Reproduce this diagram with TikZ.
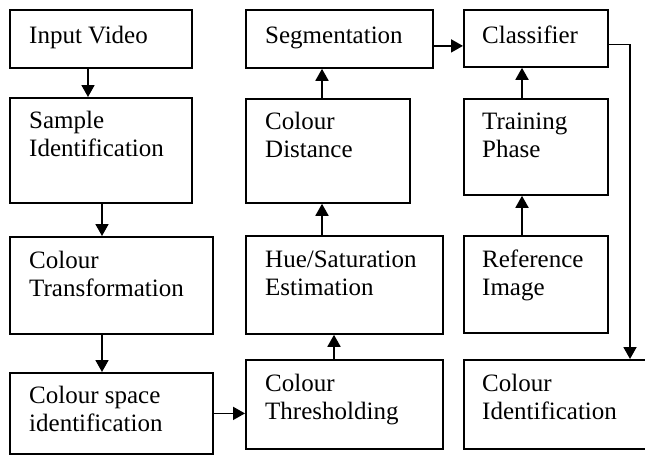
\documentclass[tikz,border=0pt]{standalone}
\usepackage{fontspec}
\setmainfont{Liberation Serif}
\usetikzlibrary{arrows.meta}

\tikzset{
  box/.style={draw, line width=1.8pt, rectangle, inner sep=0pt, anchor=north west},
  txt/.style={anchor=base west, inner sep=0pt, align=left, font=\fontsize{25}{28}\selectfont},
  arr/.style={line width=1.8pt, -{Triangle[length=12pt,width=13pt]}}
}

\begin{document}
\begin{tikzpicture}[x=1pt,y=-1pt]
	
	\useasboundingbox (0,0) rectangle (645,456);
	\clip (0,0) rectangle (645,456);
	
	% first column
	\node[box, minimum width=182, minimum height=58] (video) at (9,9) {};
	\node[box, minimum width=182, minimum height=105] (sample) at (9,97) {};
	\node[box, minimum width=203, minimum height=97] (transf) at (9,236) {};
	\node[box, minimum width=203, minimum height=81] (space) at (9,372) {};
	
	\node[txt] (videotxt) at ([shift={(20,34)}]video.north west) {Input Video};
	\node[txt] (sampletxt) at ([shift={(20,59)}]sample.north west) {Sample\\Identification};
	\node[txt] (transftxt) at ([shift={(20,60)}]transf.north west) {Colour\\Transformation};
	\node[txt] (spacetxt) at ([shift={(20,59)}]space.north west) {Colour space\\identification};
	
	% second column
	\node[box, minimum width=187, minimum height=58] (segm) at (245,9) {};
	\node[box, minimum width=164, minimum height=104] (dist) at (245,98) {};
	\node[box, minimum width=197, minimum height=98] (hue) at (245,235) {};
	\node[box, minimum width=197, minimum height=89] (thresh) at (245,359) {};
	
	\node[txt] (segmtxt) at ([shift={(20,34)}]segm.north west) {Segmentation};
	\node[txt] (disttxt) at ([shift={(20,59)}]dist.north west) {Colour\\Distance};
	\node[txt] (huetxt) at ([shift={(20,60)}]hue.north west) {Hue/Saturation\\Estimation};
	\node[txt] (threshtxt) at ([shift={(20,60)}]thresh.north west) {Colour\\Thresholding};
	
	% third column
	\node[box, minimum width=144, minimum height=57] (classif) at (463,9) {};
	\node[box, minimum width=144, minimum height=96] (train) at (463,98) {};
	\node[box, minimum width=144, minimum height=97] (ref) at (463,235) {};
	\node[box, minimum width=190, minimum height=89] (ident) at (463,359) {};
	
	\node[txt] (classiftxt) at ([shift={(19,34)}]classif.north west) {Classifier};
	\node[txt] (traintxt) at ([shift={(19,59)}]train.north west) {Training\\Phase};
	\node[txt] (reftxt) at ([shift={(19,60)}]ref.north west) {Reference\\Image};
	\node[txt] (identtxt) at ([shift={(19,60)}]ident.north west) {Colour\\Identification};
	
	% connectors
	\draw[arr] ([xshift=79]video.south west) -- ([xshift=79]sample.north west);
	\draw[arr] ([xshift=93]sample.south west) -- ([xshift=93]transf.north west);
	\draw[arr] ([xshift=93]transf.south west) -- ([xshift=93]space.north west);
	\draw[arr] (space.east) -- (space.east -| thresh.west);
	\draw[arr] ([xshift=89]thresh.north west) -- ([xshift=89]hue.south west);
	\draw[arr] ([xshift=77]hue.north west) -- ([xshift=77]dist.south west);
	\draw[arr] ([xshift=77]dist.north west) -- ([xshift=77]segm.south west);
	\draw[arr] ([yshift=-7]segm.east) -- ([yshift=-7]segm.east -| classif.west);
	\draw[arr] ([xshift=59]ref.north west) -- ([xshift=59]train.south west);
	\draw[arr] ([xshift=59]train.north west) -- ([xshift=59]classif.south west);
	\draw[arr] ([yshift=-6]classif.east) -| ([xshift=167]ident.north west);
	
\end{tikzpicture}
\end{document}
